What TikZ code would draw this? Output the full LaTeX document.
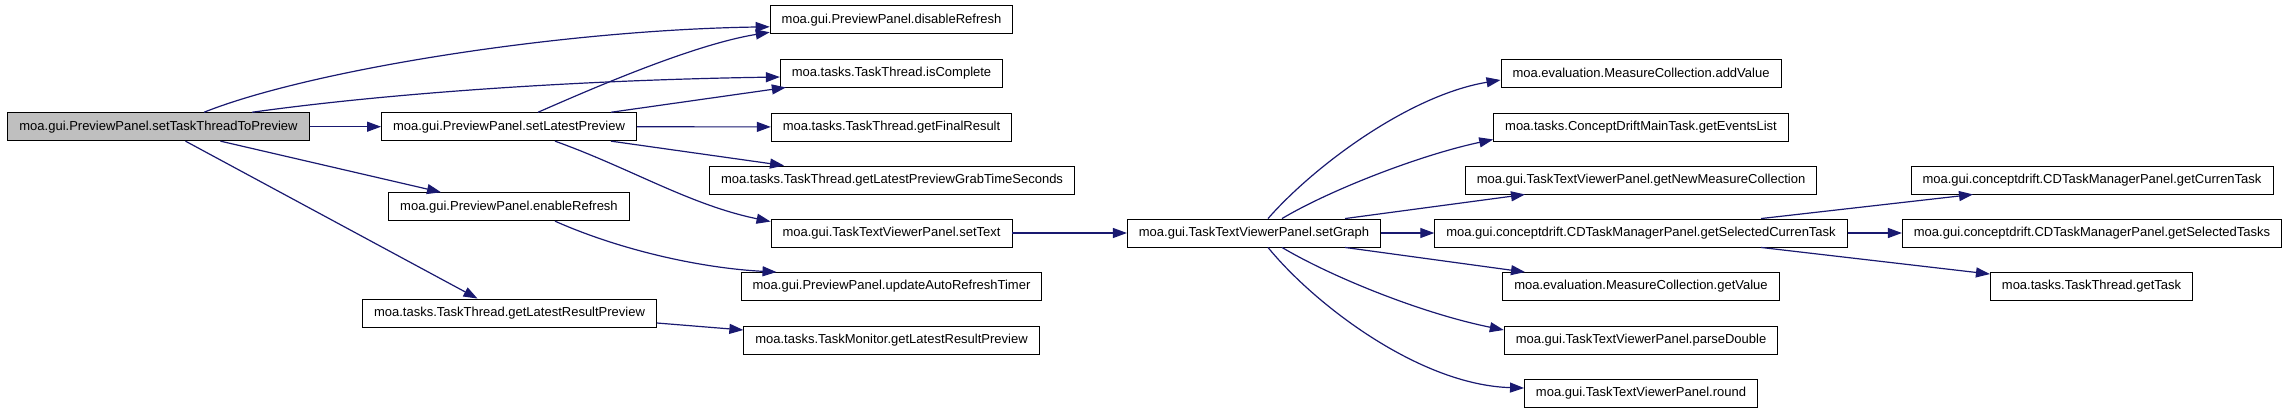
\documentclass[tikz,border=0pt]{standalone}
\usepackage{fontspec}
\setmainfont{Liberation Sans}
\usetikzlibrary{positioning, arrows.meta}
\definecolor{EdgeBlue}{RGB}{25, 25, 112}
\definecolor{RootGray}{RGB}{191, 191, 191}

\begin{document}
\begin{tikzpicture}[x=1pt, y=-1pt,
    fnbox/.style={draw=black, line width=0.9pt, rectangle, minimum height=28pt,
      inner xsep=11.5pt, inner ysep=0pt, font=\fontsize{13}{15}\selectfont},
    callarrow/.style={EdgeBlue, line width=1.2pt, -{Triangle[length=14pt, width=10pt]}}]
    \useasboundingbox (0,0) rectangle (2291,413);

    % Caller
    \node[fnbox, fill=RootGray] (root) at (158.5,126.7) {moa.gui.PreviewPanel.setTaskThreadToPreview};

    % Second column
    \node[fnbox] (latest) at (509,126.7) {moa.gui.PreviewPanel.setLatestPreview};
    \node[fnbox] (enable) at (509,206.7) {moa.gui.PreviewPanel.enableRefresh};
    \node[fnbox] (resprev) at (509.5,313) {moa.tasks.TaskThread.getLatestResultPreview};

    % Third column
    \node[fnbox] (disable) at (891.5,19.8) {moa.gui.PreviewPanel.disableRefresh};
    \node[fnbox] (complete) at (891.5,73) {moa.tasks.TaskThread.isComplete};
    \node[fnbox] (final) at (891.5,127) {moa.tasks.TaskThread.getFinalResult};
    \node[fnbox] (grab) at (892,180) {moa.tasks.TaskThread.getLatestPreviewGrabTimeSeconds};
    \node[fnbox] (settext) at (891.5,233) {moa.gui.TaskTextViewerPanel.setText};
    \node[fnbox] (autotimer) at (891.5,286.5) {moa.gui.PreviewPanel.updateAutoRefreshTimer};
    \node[fnbox] (monitor) at (891.5,340) {moa.tasks.TaskMonitor.getLatestResultPreview};

    % Fourth column
    \node[fnbox] (graph) at (1254,233) {moa.gui.TaskTextViewerPanel.setGraph};

    % Fifth column
    \node[fnbox] (addval) at (1641,73) {moa.evaluation.MeasureCollection.addValue};
    \node[fnbox] (events) at (1641,127) {moa.tasks.ConceptDriftMainTask.getEventsList};
    \node[fnbox] (newmc) at (1641,180) {moa.gui.TaskTextViewerPanel.getNewMeasureCollection};
    \node[fnbox] (selcur) at (1641,233) {moa.gui.conceptdrift.CDTaskManagerPanel.getSelectedCurrenTask};
    \node[fnbox] (getval) at (1641,286.5) {moa.evaluation.MeasureCollection.getValue};
    \node[fnbox] (parse) at (1641,340) {moa.gui.TaskTextViewerPanel.parseDouble};
    \node[fnbox] (round) at (1641,393) {moa.gui.TaskTextViewerPanel.round};

    % Sixth column
    \node[fnbox] (curtask) at (2092,180) {moa.gui.conceptdrift.CDTaskManagerPanel.getCurrenTask};
    \node[fnbox] (seltasks) at (2092,233) {moa.gui.conceptdrift.CDTaskManagerPanel.getSelectedTasks};
    \node[fnbox] (gettask) at (2091.5,286.5) {moa.tasks.TaskThread.getTask};

    % Calls from setTaskThreadToPreview
    \draw[callarrow] ([xshift=45.5pt]root.north) .. controls (310,70) and (560,30) .. ([yshift=-7pt]disable.west);
    \draw[callarrow] ([xshift=93.5pt]root.north) .. controls (390,93) and (580,80) .. ([yshift=-4pt]complete.west);
    \draw[callarrow] (root) -- (latest);
    \draw[callarrow] ([xshift=62pt]root.south) -- ([xshift=-68pt]enable.north);
    \draw[callarrow] ([xshift=27pt]root.south) -- ([xshift=-32pt]resprev.north);

    % Calls from setLatestPreview
    \draw[callarrow] ([xshift=29pt]latest.north) .. controls (580,94) and (690,45) .. ([yshift=2pt]disable.south west);
    \draw[callarrow] ([xshift=102pt]latest.north) -- ([xshift=6pt]complete.south west);
    \draw[callarrow] (latest) -- (final);
    \draw[callarrow] ([xshift=102pt]latest.south) -- ([xshift=-108pt]grab.north);
    \draw[callarrow] ([xshift=46pt]latest.south) .. controls (630,168) and (690,205) .. ([yshift=-3pt]settext.north west);

    % Calls from enableRefresh and getLatestResultPreview
    \draw[callarrow] ([xshift=46pt]enable.south) .. controls (620,250) and (700,268) .. ([xshift=-115pt]autotimer.north);
    \draw[callarrow] ([yshift=-10pt]resprev.east) -- ([yshift=10pt]monitor.west);

    % setText
    \draw[callarrow] (settext) -- (graph);

    % Calls from setGraph
    \draw[callarrow] ([xshift=14pt]graph.north) .. controls (1315,165) and (1410,95) .. ([yshift=-7pt]addval.west);
    \draw[callarrow] ([xshift=28pt]graph.north) .. controls (1330,190) and (1420,155) .. ([yshift=2pt]events.south west);
    \draw[callarrow] ([xshift=91pt]graph.north) -- ([xshift=-116pt]newmc.south);
    \draw[callarrow] (graph) -- (selcur);
    \draw[callarrow] ([xshift=91pt]graph.south) -- ([xshift=-116pt]getval.north);
    \draw[callarrow] ([xshift=28pt]graph.south) .. controls (1330,276) and (1420,313) .. ([yshift=10pt]parse.west);
    \draw[callarrow] ([xshift=14pt]graph.south) .. controls (1315,305) and (1420,385) .. ([yshift=5pt]round.west);

    % Calls from getSelectedCurrenTask
    \draw[callarrow] ([xshift=120pt]selcur.north) -- ([xshift=-119pt]curtask.south);
    \draw[callarrow] (selcur) -- (seltasks);
    \draw[callarrow] ([xshift=120pt]selcur.south) -- ([yshift=-2pt]gettask.north west);
  \end{tikzpicture}
\end{document}
